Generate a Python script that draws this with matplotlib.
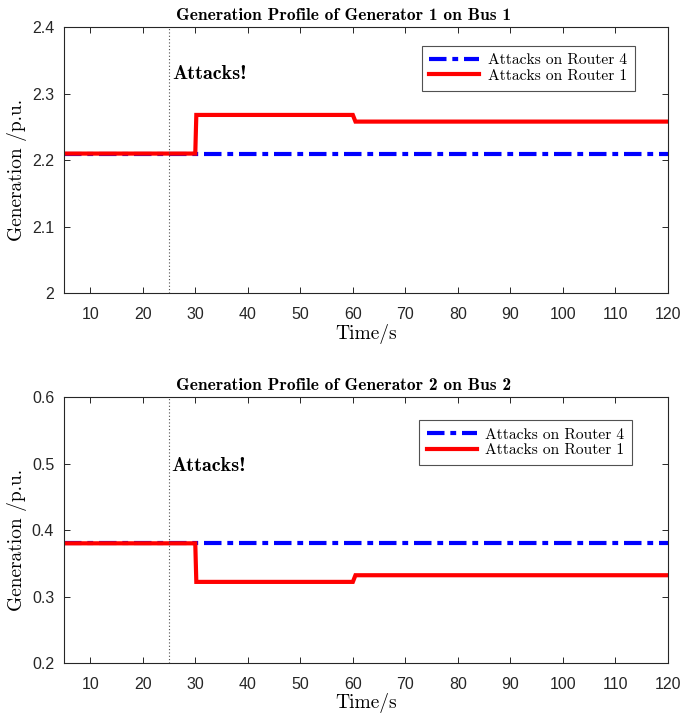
import matplotlib
matplotlib.use("Agg")
import matplotlib.pyplot as plt

# Simulation time stamps (s) and generator outputs (p.u.)
time = [5, 30, 30.2, 60, 60.5, 120]
gen1_router4 = [2.21, 2.21, 2.21, 2.21, 2.21, 2.21]
gen1_router1 = [2.21, 2.21, 2.268, 2.268, 2.258, 2.258]
gen2_router4 = [0.38, 0.38, 0.38, 0.38, 0.38, 0.38]
gen2_router1 = [0.38, 0.38, 0.322, 0.322, 0.332, 0.332]

attack_time = 25
x_ticks = [10, 20, 30, 40, 50, 60, 70, 80, 90, 100, 110, 120]
titles = ["Generation Profile of Generator 1 on Bus 1",
          "Generation Profile of Generator 2 on Bus 2"]
y_limits = [(2.0, 2.4), (0.2, 0.6)]
y_ticks = [[2.0, 2.1, 2.2, 2.3, 2.4], [0.2, 0.3, 0.4, 0.5, 0.6]]
y_ticklabels = [["2", "2.1", "2.2", "2.3", "2.4"], ["0.2", "0.3", "0.4", "0.5", "0.6"]]
legend_labels = ["Attacks on Router 4", "Attacks on Router 1"]

axis_color = (0.15, 0.15, 0.15)
serif = "cmr10"
serif_bold = "cmb10"
sans = "Liberation Sans"

fig = plt.figure(figsize=(6.82, 7.16), dpi=100)
positions = [[0.0938, 0.5901, 0.8856, 0.3722],
             [0.0938, 0.0740, 0.8856, 0.3715]]
series = [(gen1_router4, gen1_router1), (gen2_router4, gen2_router1)]
legend_anchor = [(0.945, 0.930), (0.941, 0.914)]
attack_text_pos = [(25.7, 0.824), (25.35, 0.741)]

for i in range(2):
    ax = fig.add_axes(positions[i])
    blue, red = series[i]
    ax.plot(time, blue, color=(0, 0, 1), lw=3, linestyle=(0, (4.2, 1.4, 1.4, 1.4)),
            label=legend_labels[0])
    ax.plot(time, red, color=(1, 0, 0), lw=3, solid_joinstyle="miter",
            label=legend_labels[1])
    ax.axvline(attack_time, color=(0.3, 0.3, 0.3), lw=0.8, linestyle=(0, (1, 2)))
    tx, ty = attack_text_pos[i]
    ax.text(tx, y_limits[i][0] + ty * (y_limits[i][1] - y_limits[i][0]),
            "Attacks!", fontfamily=serif_bold, fontsize=14.5, va="center", ha="left")

    ax.set_xlim(5, 120)
    ax.set_ylim(*y_limits[i])
    ax.set_xticks(x_ticks)
    ax.set_yticks(y_ticks[i])
    ax.set_yticklabels(y_ticklabels[i])
    for lbl in ax.get_xticklabels() + ax.get_yticklabels():
        lbl.set_fontfamily(sans)
        lbl.set_fontsize(11.5)
        lbl.set_color(axis_color)
    ax.tick_params(direction="in", length=4, width=0.7, color=axis_color,
                   top=True, right=True)
    ax.tick_params(axis="x", pad=10)
    ax.tick_params(axis="y", pad=7)
    for sp in ax.spines.values():
        sp.set_color(axis_color)
        sp.set_linewidth(0.8)

    ax.set_title(titles[i], fontfamily=serif_bold, fontsize=12.5, pad=5, x=0.4636)
    ax.set_xlabel("Time/s", fontfamily=serif, fontsize=14, labelpad=1)
    ax.set_ylabel("Generation /p.u.", fontfamily=serif, fontsize=14)
    ax.yaxis.set_label_coords(-0.062, 0.5 - 10 / 266.7)

    leg = ax.legend(loc="upper right", bbox_to_anchor=legend_anchor[i],
                    prop={"family": serif, "size": 11.2}, frameon=True, fancybox=False,
                    handlelength=3.2, handletextpad=0.55, borderpad=0.5,
                    labelspacing=0.1, borderaxespad=0.0)
    leg.get_frame().set_edgecolor(axis_color)
    leg.get_frame().set_linewidth(0.8)

fig.savefig("out.png", dpi=100)
